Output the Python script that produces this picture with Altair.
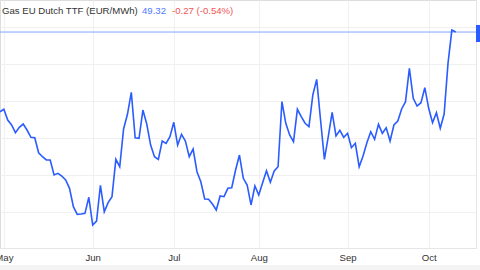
import altair as alt
import pandas as pd

# Gas EU Dutch TTF daily closes (trading-day index), Apr 28 - Oct 11 2023
prices = [
    38.55, 38.88, 37.43, 36.76, 35.72, 36.45, 36.89, 36.08, 35.09, 35.04,
    33.01, 32.47, 32.03, 32.03, 30.00, 30.23, 29.86, 29.32, 28.20, 25.72,
    24.69, 24.73, 24.82, 26.99, 23.24, 23.78, 28.61, 25.04, 26.26, 27.07,
    32.12, 31.12, 36.22, 38.20, 41.18, 35.04, 34.96, 38.78, 36.89, 34.05,
    32.47, 32.12, 34.59, 34.28, 35.18, 37.12, 34.05, 35.50, 34.59, 32.47,
    33.51, 30.45, 29.09, 26.76, 26.72, 26.08, 25.27, 27.16, 27.07, 28.20,
    28.28, 30.68, 32.70, 29.55, 28.65, 25.95, 28.51, 27.30, 28.96, 30.58,
    29.01, 30.54, 31.12, 39.91, 36.99, 35.41, 34.50, 38.88, 37.88, 36.99,
    36.53, 40.81, 42.93, 37.43, 32.12, 35.18, 38.47, 35.27, 36.04, 35.09,
    35.64, 33.69, 34.28, 31.12, 32.57, 34.36, 35.85, 34.82, 36.85, 35.64,
    36.39, 34.59, 36.76, 37.30, 38.92, 39.91, 44.42, 40.36, 39.32, 39.77,
    41.80, 39.01, 37.07, 38.42, 36.31, 38.24, 45.09, 49.59, 49.32,
]
month_labels = ["May", "Jun", "Jul", "Aug", "Sep", "Oct"]
month_idx = [1, 24, 45, 67, 90, 111]
y_grid = [25, 30, 35, 40, 45, 50]
last_price = 49.32
title_text = "Gas EU Dutch TTF (EUR/MWh)"
price_text = "49.32"
change_text = "-0.27 (-0.54%)"

df = pd.DataFrame({"i": list(range(len(prices))), "price": prices})

label_expr = ""
for idx, lab in zip(month_idx, month_labels):
    label_expr += f"datum.value == {idx} ? '{lab}' : "
label_expr += "''"

FONT = "Liberation Sans"
W, H = 476, 248

xs = alt.Scale(domain=[0, 123.25], nice=False, zero=False)
ys = alt.Scale(domain=[20.135, 53.649], nice=False, zero=False)

line = alt.Chart(df).mark_line(color="#2a5cff", strokeWidth=1.6, clip=True).encode(
    x=alt.X("i:Q", scale=xs,
            axis=alt.Axis(values=month_idx, labelExpr=label_expr, title=None,
                          grid=True, gridColor="#f0f0f0", gridWidth=1,
                          domainColor="#e6e6e6", ticks=False, labelFlush=False,
                          labelOverlap=False, labelPadding=4, labelFont=FONT,
                          labelFontSize=9.6, labelColor="#333333")),
    y=alt.Y("price:Q", scale=ys,
            axis=alt.Axis(orient="right", values=y_grid, labels=False, ticks=False,
                          title=None, grid=True, gridColor="#f0f0f0", gridWidth=1,
                          domainColor="#e6e6e6")),
)

price_rule = alt.Chart(pd.DataFrame({"p": [last_price]})).mark_rule(
    color="#86a6ff", strokeWidth=1).encode(y=alt.Y("p:Q", scale=ys))

price_box = alt.Chart(pd.DataFrame({"p": [last_price]})).mark_rect(
    color="#2a5cff").encode(
    x=alt.value(W), x2=alt.value(W + 10),
    y=alt.value(25), y2=alt.value(42))

bottom_band = alt.Chart(pd.DataFrame({"a": [0]})).mark_rect(color="#f4f4f4").encode(
    x=alt.value(0), x2=alt.value(W + 4), y=alt.value(H + 17), y2=alt.value(H + 22))

def txt(s, xpos, col):
    return alt.Chart(pd.DataFrame({"t": [s]})).mark_text(
        align="left", baseline="middle", font=FONT, fontSize=9.6, color=col
    ).encode(text="t:N", x=alt.value(xpos), y=alt.value(10.5))

chart = alt.layer(
    bottom_band, price_rule, line, price_box,
    txt(title_text, 2, "#333333"),
    txt(price_text, 142, "#4f78ff"),
    txt(change_text, 172, "#f05555"),
).properties(
    width=W, height=H,
    autosize=alt.AutoSizeParams(type="none"),
    padding={"left": 0, "top": 0, "right": 4, "bottom": 22},
).configure_view(stroke=None).configure(background="white")

chart.save("out.html", embed_options={"renderer": "svg", "actions": False})
